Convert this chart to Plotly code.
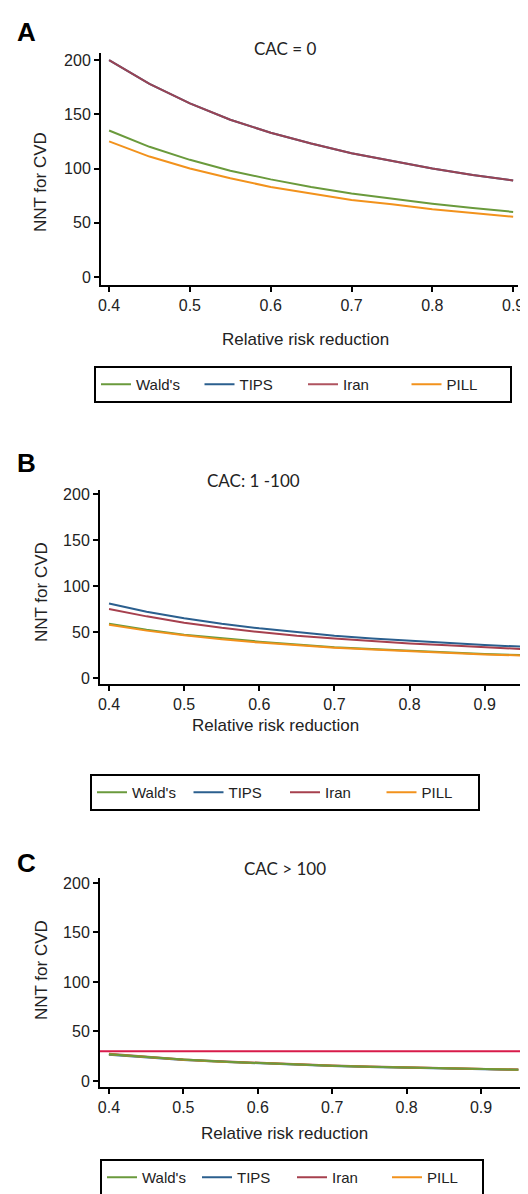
import plotly.graph_objects as go

W, H = 528, 1194

# ---------------- data ----------------
series_names = ["Wald's", "TIPS", "Iran", "PILL"]
series_colors = {"Wald's": "#6a9a3c", "TIPS": "#2b5f8e", "Iran": "#a6404e", "PILL": "#f2921c"}

rrr_a = [0.40, 0.45, 0.50, 0.55, 0.60, 0.65, 0.70, 0.75, 0.80, 0.85, 0.90]
a_walds = [135, 120, 108, 98, 90, 83, 77, 72, 67.5, 63.5, 60]
a_tips = [200, 178, 160, 145, 133, 123, 114, 107, 100, 94, 89]
a_iran = [200, 178, 160, 145, 133, 123, 114, 107, 100, 94, 89]
a_pill = [125, 111, 100, 91, 83, 77, 71, 67, 62.5, 59, 55.5]

rrr_bc = [0.40, 0.45, 0.50, 0.55, 0.60, 0.65, 0.70, 0.75, 0.80, 0.85, 0.90, 0.95]
b_walds = [59, 52.5, 47, 43, 39.5, 36.5, 33.5, 31.5, 29.5, 28, 26, 25]
b_tips = [81, 72, 65, 59, 54, 50, 46, 43, 40.5, 38, 36, 34]
b_iran = [75, 67, 60, 54.5, 50, 46, 43, 40, 37.5, 35.5, 33.5, 31.5]
b_pill = [58, 51.5, 46.5, 42, 38.5, 35.5, 33, 31, 29, 27.5, 25.5, 24.5]

c_walds = [27, 24, 21.6, 19.6, 18, 16.6, 15.4, 14.4, 13.5, 12.7, 12, 11.4]
c_tips = [26.5, 23.5, 21.2, 19.3, 17.7, 16.3, 15.1, 14.1, 13.3, 12.5, 11.8, 11.2]
c_iran = [27.5, 24.3, 21.8, 19.8, 18.2, 16.8, 15.6, 14.6, 13.7, 12.9, 12.2, 11.5]
c_pill = [27, 24, 21.5, 19.5, 18, 16.5, 15.4, 14.4, 13.5, 12.7, 12, 11.3]
c_reference = 30

panel_titles = ["CAC = 0", "CAC: 1 -100", "CAC > 100"]
panel_letters = ["A", "B", "C"]
y_ticks = [0, 50, 100, 150, 200]
x_ticks = [0.4, 0.5, 0.6, 0.7, 0.8, 0.9]
x_title = "Relative risk reduction"
y_title = "NNT for CVD"


def px(p):
    return p / W


def py(p):
    return 1 - p / H


fig = go.Figure()

panels = [
    dict(x=rrr_a, data={"Wald's": a_walds, "TIPS": a_tips, "Iran": a_iran, "PILL": a_pill},
         order=["Wald's", "PILL", "TIPS", "Iran"], legend="legend"),
    dict(x=rrr_bc, data={"Wald's": b_walds, "TIPS": b_tips, "Iran": b_iran, "PILL": b_pill},
         order=["TIPS", "Iran", "Wald's", "PILL"], legend="legend2"),
    dict(x=rrr_bc, data={"Wald's": c_walds, "TIPS": c_tips, "Iran": c_iran, "PILL": c_pill},
         order=["TIPS", "Iran", "PILL", "Wald's"], legend="legend3"),
]

for i, p in enumerate(panels):
    sfx = "" if i == 0 else str(i + 1)
    for name in p["order"]:
        fig.add_trace(go.Scatter(
            x=p["x"], y=p["data"][name], name=name, mode="lines",
            line=dict(color=series_colors[name], width=2),
            opacity=0.9 if (i == 0 and name == "Iran") else 1,
            xaxis="x" + sfx, yaxis="y" + sfx, legend=p["legend"],
            legendrank=series_names.index(name) + 1,
        ))

# horizontal reference line in panel C
fig.add_shape(type="line", xref="x3 domain", yref="y3", x0=0, x1=1,
              y0=c_reference, y1=c_reference, line=dict(color="#d81b4a", width=2))

# axis geometry (pixels)
geo = [
    dict(xl=93, xr=510, yt=45, yb=277, xr_=[0.390, 0.906], yr_=[-7.4, 206.5]),
    dict(xl=92, xr=518, yt=482, yb=676, xr_=[0.388, 0.955], yr_=[-6.5, 204.3]),
    dict(xl=92, xr=517, yt=870, yb=1079, xr_=[0.388, 0.959], yr_=[-6.1, 205.0]),
]

tick_font = dict(family="Liberation Sans, Arial, sans-serif", size=16, color="#222")
layout = dict(
    width=W, height=H, plot_bgcolor="white", paper_bgcolor="white",
    margin=dict(l=0, r=0, t=0, b=0, autoexpand=False),
)
for i, g in enumerate(geo):
    sfx = "" if i == 0 else str(i + 1)
    layout["xaxis" + sfx] = dict(
        domain=[px(g["xl"]), px(g["xr"])], range=g["xr_"], anchor="y" + sfx,
        tickmode="array", tickvals=x_ticks, ticktext=[f"{v:.1f}" for v in x_ticks],
        showline=True, linecolor="black", linewidth=2, ticks="outside", ticklen=5,
        tickwidth=1.5, tickcolor="black", showgrid=False, zeroline=False,
        tickfont=tick_font,
    )
    layout["yaxis" + sfx] = dict(
        domain=[py(g["yb"]), py(g["yt"])], range=g["yr_"], anchor="x" + sfx,
        tickmode="array", tickvals=y_ticks,
        showline=True, linecolor="black", linewidth=2, ticks="outside", ticklen=5,
        tickwidth=1.5, tickcolor="black", showgrid=False, zeroline=False,
        tickfont=tick_font,
    )

leg_common = dict(orientation="h", xanchor="left", yanchor="top",
                  bordercolor="black", borderwidth=2, bgcolor="white",
                  font=dict(family="Liberation Sans, Arial, sans-serif", size=15, color="#222"),
                  entrywidthmode="pixels", traceorder="normal")
layout["legend"] = dict(leg_common, x=px(86), y=py(358), entrywidth=58.5)
layout["legend2"] = dict(leg_common, x=px(82), y=py(766), entrywidth=51.5)
layout["legend3"] = dict(leg_common, x=px(92), y=py(1151), entrywidth=50)
fig.update_layout(**layout)

# text annotations
letter_pos = [(7, 24), (7, 455), (7, 855)]
title_pos = [(277, 40), (245, 472), (277, 860)]
ytitle_pos = [(33, 174), (33, 584), (33, 962)]
xtitle_pos = [(297, 331), (267, 717), (276, 1125)]

for i in range(3):
    fig.add_annotation(text=f"<b>{panel_letters[i]}</b>", xref="paper", yref="paper",
                       x=px(letter_pos[i][0]), y=py(letter_pos[i][1]), xanchor="left", yanchor="middle",
                       showarrow=False, font=dict(family="Liberation Sans, Arial", size=26, color="black"))
    fig.add_annotation(text=panel_titles[i], xref="paper", yref="paper",
                       x=px(title_pos[i][0]), y=py(title_pos[i][1]), xanchor="center", yanchor="middle",
                       showarrow=False, font=dict(family="Lato, Carlito, sans-serif", size=17, color="#222"))
    fig.add_annotation(text=y_title, xref="paper", yref="paper", textangle=-90,
                       x=px(ytitle_pos[i][0]), y=py(ytitle_pos[i][1]), xanchor="center", yanchor="middle",
                       showarrow=False, font=dict(family="Liberation Sans, Arial", size=17, color="#222"))
    fig.add_annotation(text=x_title, xref="paper", yref="paper",
                       x=px(xtitle_pos[i][0]), y=py(xtitle_pos[i][1]), xanchor="center", yanchor="middle",
                       showarrow=False, font=dict(family="Liberation Sans, Arial", size=17, color="#222"))

fig.write_html("out.html")
